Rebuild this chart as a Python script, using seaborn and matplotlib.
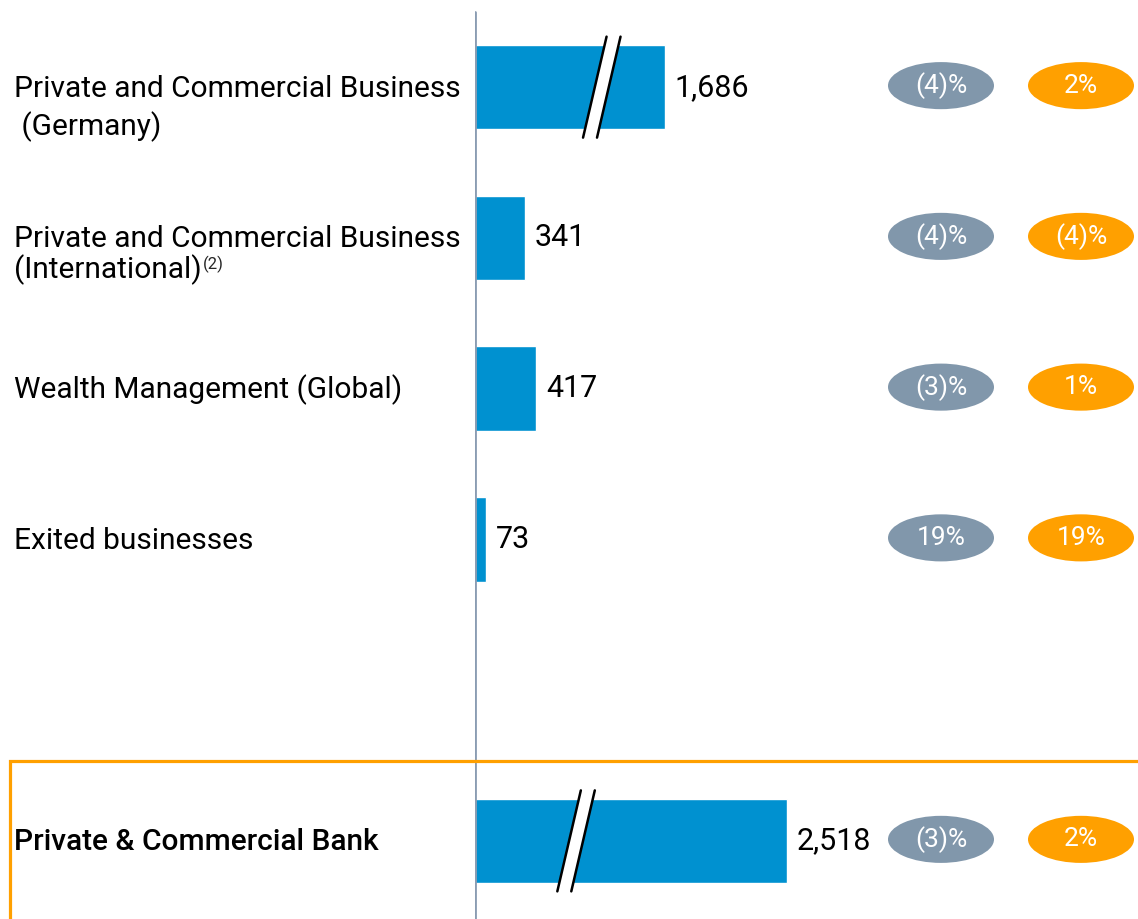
import matplotlib
matplotlib.use("Agg")
import pandas as pd
import matplotlib.pyplot as plt
import matplotlib.transforms as mtransforms
from matplotlib.patches import Ellipse, Rectangle, Polygon
import seaborn as sns

# data
row_keys = ["pcb_de", "pcb_int", "wm", "exited", "gap", "pcb_total"]
label_first = ["Private and Commercial Business", "Private and Commercial Business",
               "Wealth Management (Global)", "Exited businesses", "", "Private & Commercial Bank"]
label_second = [" (Germany)", "(International)", "", "", "", ""]
revenues = [1686, 341, 417, 73, None, 2518]
change_reported = ["(4)%", "(4)%", "(3)%", "19%", None, "(3)%"]
change_ex_specific = ["2%", "(4)%", "1%", "19%", None, "2%"]

# broken-bar settings for the two big bars
break_cut = 395
break_threshold = 1000
break_at = {"pcb_de": 815, "pcb_total": 640}

blue = "#0091d0"
grey = "#8197ab"
orange = "#ffa000"
axis_grey = "#8a9cb2"

shown = [0 if v is None else (v - break_cut if v > break_threshold else v) for v in revenues]
df = pd.DataFrame({"row": row_keys, "shown": shown})

sns.set_style("white")
plt.rcParams["font.family"] = ["Roboto", "DejaVu Sans"]

fig = plt.figure(figsize=(11.38, 9.19), dpi=100)
ax = fig.add_axes([475 / 1138, 0, 663 / 1138, 1])

sns.barplot(data=df, x="shown", y="row", order=row_keys, orient="h",
            color=blue, width=0.56, saturation=1, ax=ax)

ax.set_xlim(0, 663 / 0.147)
ax.set_ylim(5 + 78 / 150.5, -87 / 150.5)
ax.set_xlabel("")
ax.set_ylabel("")
ax.set_xticks([])
ax.set_yticks([])
for s in ax.spines.values():
    s.set_visible(False)

# value labels
bars = ax.containers[0]
labels = ["" if v is None else f"{v:,}" for v in revenues]
ax.bar_label(bars, labels=labels, padding=7, fontsize=22, color="black")

# break marks
for key, xb in break_at.items():
    i = row_keys.index(key)
    h = 0.335
    slant = 80
    gap = 95
    poly = Polygon([(xb - slant, i + h), (xb - slant + gap, i + h),
                    (xb + slant + gap, i - h), (xb + slant, i - h)],
                   closed=True, facecolor="white", edgecolor="none", zorder=5)
    ax.add_patch(poly)
    ax.plot([xb - slant, xb + slant], [i + h, i - h], color="black", lw=1.8, zorder=6)
    ax.plot([xb - slant + gap, xb + slant + gap], [i + h, i - h], color="black", lw=1.8, zorder=6)

# vertical axis line
ax.axvline(0, ymin=0, ymax=1 - 12 / 919, color=axis_grey, lw=2, zorder=7)

# category labels on the left
lab_tf = mtransforms.blended_transform_factory(fig.transFigure, ax.transData)
for i, (l1, l2) in enumerate(zip(label_first, label_second)):
    if not l1:
        continue
    weight = "medium" if row_keys[i] == "pcb_total" else "normal"
    ax.text(14 / 1138, i + 0.01, l1, transform=lab_tf, fontsize=21.5, va="center",
            ha="left", color="black", clip_on=False, fontweight=weight)
    if l2:
        dy = 0.26 if i == 0 else 0.21
        t = ax.text(14 / 1138, i + dy, l2, transform=lab_tf, fontsize=21.5,
                    va="center", ha="left", color="black", clip_on=False)
        if row_keys[i] == "pcb_int":
            ax.annotate("(2)", xy=(1, 1), xycoords=t, xytext=(1, -1),
                        textcoords="offset points", fontsize=12, va="top", ha="left")

# change bubbles
bub_tf = mtransforms.blended_transform_factory(ax.transAxes, ax.transData)
for i, (c1, c2) in enumerate(zip(change_reported, change_ex_specific)):
    if c1 is None:
        continue
    for xc, txt, col in [((941 - 475) / 663, c1, grey), ((1081 - 475) / 663, c2, orange)]:
        e = Ellipse((xc, i - 0.01), width=106 / 663, height=47 / 150.5,
                    transform=bub_tf, facecolor=col, edgecolor="none", clip_on=False)
        ax.add_patch(e)
        ax.text(xc, i - 0.01, txt, transform=bub_tf, ha="center", va="center",
                fontsize=19, color="white", clip_on=False)

# highlight box for the total
fig.patches.append(Rectangle((10 / 1138, -0.1), 1.2, (919 - 761) / 919 + 0.1,
                             transform=fig.transFigure, fill=False,
                             edgecolor=orange, lw=2.3, zorder=0))

fig.savefig("out.png", dpi=100)
